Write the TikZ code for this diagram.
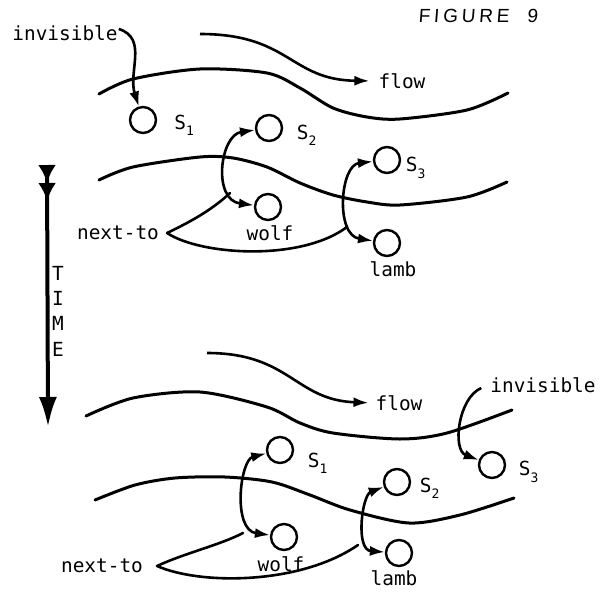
\documentclass[tikz,border=0pt]{standalone}
\usepackage{fontspec}
\setmonofont{DejaVu Sans Mono}
\newfontfamily\figfont[LetterSpace=20,FakeSlant=0.08]{Liberation Sans}
\usetikzlibrary{arrows.meta,positioning}
\newcommand{\subnum}[1]{\raisebox{-0.6ex}{\fontsize{13}{13}\selectfont #1}}
\tikzset{
  >={Latex[length=15pt,width=10pt]},
  stream/.style={line width=3pt,line cap=round},
  flow/.style={->,line width=2.6pt},
  pair/.style={<->,line width=2.6pt},
  link/.style={line width=2.6pt,line cap=round},
  spot/.style={circle,draw,line width=2.4pt,minimum size=26pt,inner sep=0pt},
  lbl/.style={inner sep=1pt,font=\ttfamily\fontsize{19.4}{25.3}\selectfont},
  figlbl/.style={inner sep=1pt,font=\figfont\fontsize{19}{19}\selectfont},
  timeline/.style={line width=4pt,
    arrows={Latex[reversed,length=18pt,width=18pt]Latex[reversed,length=18pt,width=18pt]-Latex[length=30pt,width=18pt]}}
}
\begin{document}
\begin{tikzpicture}[x=1pt,y=-1pt]
  \useasboundingbox (0,0) rectangle (604,594);
  \node[figlbl] (fig) at (478,16) {FIGURE\hspace{18pt}9};
  % time axis
  \coordinate (t0) at (47,165);
  \coordinate (t1) at (48,427);
  \draw[timeline] (t0) -- (t1);
  \node[lbl,align=center] (time) at (58,311) {T\\I\\M\\E};

  % upper scene
  \draw[stream] plot[smooth] coordinates {(99,94) (133,79) (200,69) (267,73) (300,88) (333,108) (367,117) (400,119) (467,110) (508,93)};
  \draw[stream] plot[smooth] coordinates {(99,180) (133,167) (200,157) (233,158) (267,167) (300,183) (333,195) (367,202) (400,205) (467,197) (507,182)};
  \node[lbl] (inv1) at (65,33) {invisible};
  \node[lbl] (flow1) at (402,81) {flow};
  \node[spot] (s1) at (143,120) {};
  \node[spot] (s2) at (269,128) {};
  \node[spot] (s3) at (387,160) {};
  \node[spot] (wolf1) at (268,207) {};
  \node[spot] (lamb1) at (387,243) {};
  \node[lbl,right=16pt of s1,yshift=-5pt] (s1l) {S\subnum{1}};
  \node[lbl,right=12.5pt of s2,yshift=-7pt] (s2l) {S\subnum{2}};
  \node[lbl,right=3.5pt of s3,yshift=-8pt] (s3l) {S\subnum{3}};
  \node[lbl,below=3pt of wolf1,xshift=2pt] (wolf1l) {wolf};
  \node[lbl,below=3pt of lamb1,xshift=6pt] (lamb1l) {lamb};
  \node[lbl] (next1) at (118,233) {next-to};
  \coordinate[right=7pt of next1] (v1);
  \coordinate (n1a) at (230,193);
  \coordinate (n1b) at (347,227);
  \coordinate (f1) at (200,34);
  \draw[flow,shorten >=8pt] (f1) .. controls (290,34) and (290,80) .. (flow1.west);
  \draw[flow] ([yshift=4pt]inv1.east) .. controls (148,38) and (128,72) .. (s1);
  \draw[pair] (s2) .. controls (220,135) and (212,200) .. (wolf1);
  \draw[pair] (s3) .. controls (340,165) and (335,235) .. (lamb1);
  \draw[link] (v1) .. controls (190,222) and (212,210) .. (n1a);
  \draw[link] (v1) .. controls (200,255) and (300,262) .. (n1b);

  % lower scene
  \draw[stream] plot[smooth] coordinates {(86,416) (133,398) (200,392) (267,407) (300,423) (333,433) (400,439) (447,433) (512,410)};
  \draw[stream] plot[smooth] coordinates {(95,500) (135,485) (175,478) (225,477) (272,482) (310,495) (350,510) (409,523) (460,515) (514,498)};
  \node[lbl] (inv2) at (543,385) {invisible};
  \node[lbl] (flow2) at (399,403) {flow};
  \node[spot] (s1b) at (280,450) {};
  \node[spot] (s2b) at (397,482) {};
  \node[spot] (s3b) at (492,465) {};
  \node[spot] (wolf2) at (284,537) {};
  \node[spot] (lamb2) at (399,553) {};
  \node[lbl,right=12.5pt of s1b,yshift=-13pt] (s1bl) {S\subnum{1}};
  \node[lbl,right=7.5pt of s2b,yshift=-6pt] (s2bl) {S\subnum{2}};
  \node[lbl,right=11.5pt of s3b,yshift=-7pt] (s3bl) {S\subnum{3}};
  \node[lbl,below=4pt of wolf2,xshift=-3pt] (wolf2l) {wolf};
  \node[lbl,below=2pt of lamb2,xshift=-5pt] (lamb2l) {lamb};
  \node[lbl] (next2) at (102,566) {next-to};
  \coordinate[right=13pt of next2] (v2);
  \coordinate (n2a) at (243,533);
  \coordinate (n2b) at (358,545);
  \coordinate (f2) at (207,353);
  \draw[flow,shorten >=6pt] (f2) .. controls (290,353) and (295,400) .. (flow2.west);
  \draw[flow] ([xshift=-8pt,yshift=-3pt]inv2.west) .. controls (458,398) and (452,450) .. (s3b);
  \draw[pair] (s1b) .. controls (240,460) and (232,530) .. (wolf2);
  \draw[pair] (s2b) .. controls (362,495) and (355,550) .. (lamb2);
  \draw[link] (v2) .. controls (185,553) and (220,545) .. (n2a);
  \draw[link] (v2) .. controls (200,585) and (300,585) .. (n2b);
\end{tikzpicture}
\end{document}
